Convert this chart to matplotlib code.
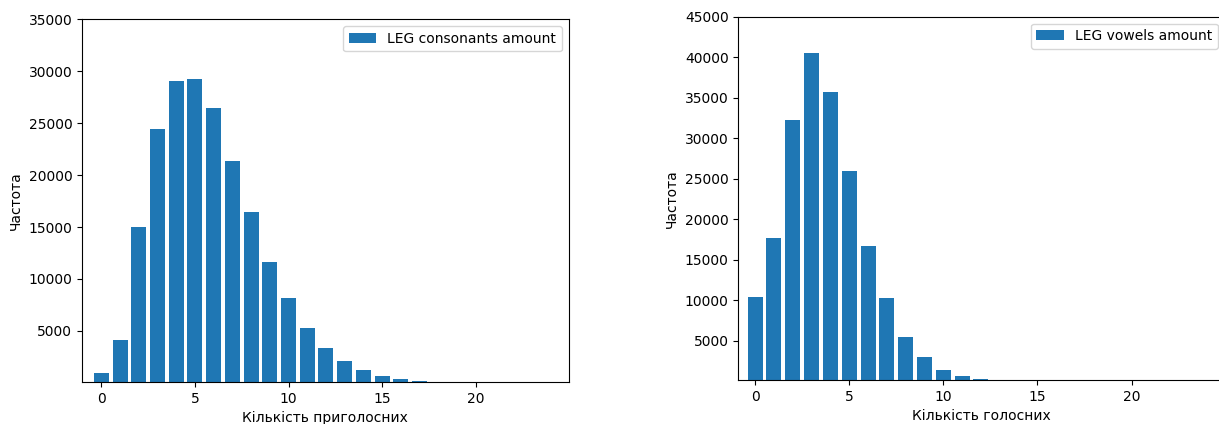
import matplotlib
matplotlib.use("Agg")
import matplotlib.pyplot as plt

# кількість приголосних / голосних у слові -> частота
consonants_x = list(range(0, 24))
consonants_freq = [950, 4100, 15000, 24400, 29050, 29250, 26500, 21350, 16400, 11650,
                   8200, 5300, 3340, 2080, 1230, 660, 370, 190, 90, 45, 20, 10, 5, 2]

vowels_x = list(range(0, 24))
vowels_freq = [10400, 17680, 32260, 40500, 35650, 25960, 16700, 10270, 5480, 2960,
               1380, 640, 270, 120, 50, 20, 10, 5, 3, 2, 1, 1, 1, 1]

consonants_xlim = (-1.03, 24.97)
vowels_xlim = (-0.89, 24.97)

dpi = 100
fig = plt.figure(figsize=(1219 / dpi, 424 / dpi), dpi=dpi)

ax1 = fig.add_axes([0.0673, 0.0991, 0.3993, 0.8554])
ax1.bar(consonants_x, consonants_freq, label="LEG consonants amount")
ax1.set_xlim(*consonants_xlim)
ax1.set_ylim(80, 35000)
ax1.set_yticks(range(5000, 35001, 5000))
ax1.set_xlabel("Кількість приголосних")
ax1.set_ylabel("Частота")
ax1.legend(loc="upper right")

ax2 = fig.add_axes([0.6057, 0.1038, 0.3993, 0.8569])
ax2.bar(vowels_x, vowels_freq, label="LEG vowels amount")
ax2.set_xlim(*vowels_xlim)
ax2.set_ylim(150, 45000)
ax2.set_yticks(range(5000, 45001, 5000))
ax2.set_xlabel("Кількість голосних")
ax2.set_ylabel("Частота")
ax2.legend(loc="upper right")

fig.savefig("out.png", dpi=dpi)
